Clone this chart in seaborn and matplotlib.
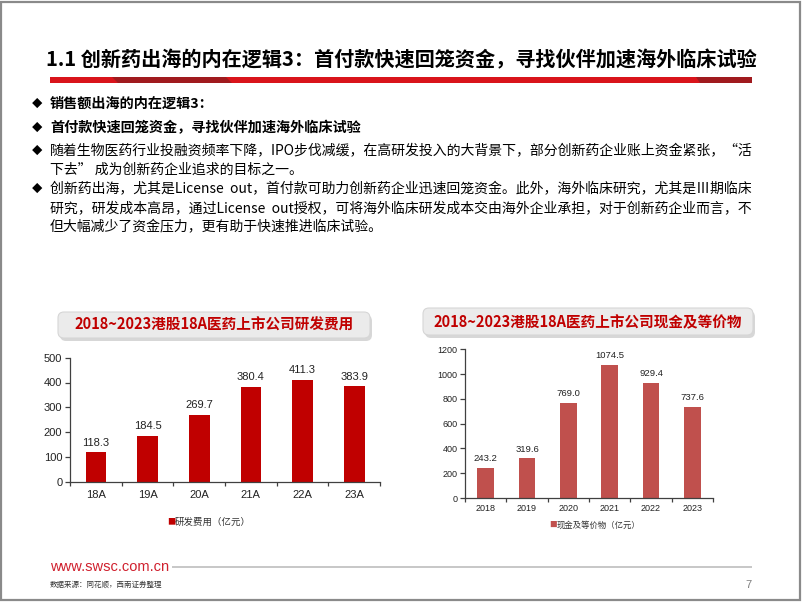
import matplotlib
matplotlib.use('Agg')
import matplotlib.pyplot as plt
import seaborn as sns
from matplotlib.patches import Rectangle, FancyBboxPatch, Polygon
from matplotlib.ticker import FixedLocator, NullLocator

# ---------------- data ----------------
rd_categories = ['18A', '19A', '20A', '21A', '22A', '23A']
rd_values = [118.3, 184.5, 269.7, 380.4, 411.3, 383.9]
rd_ticks = [0, 100, 200, 300, 400, 500]

cash_years = ['2018', '2019', '2020', '2021', '2022', '2023']
cash_values = [243.2, 319.6, 769.0, 1074.5, 929.4, 737.6]
cash_ticks = [0, 200, 400, 600, 800, 1000, 1200]

title = '1.1 创新药出海的内在逻辑3：首付款快速回笼资金，寻找伙伴加速海外临床试验'
bullets = [
    ('销售额出海的内在逻辑3：', True, True),
    ('首付款快速回笼资金，寻找伙伴加速海外临床试验', True, True),
    ('随着生物医药行业投融资频率下降，IPO步伐减缓，在高研发投入的大背景下，部分创新药企业账上资金紧张，“活', False, True),
    ('下去” 成为创新药企业追求的目标之一。', False, False),
    ('创新药出海，尤其是License  out，首付款可助力创新药企业迅速回笼资金。此外，海外临床研究，尤其是Ⅲ期临床', False, True),
    ('研究，研发成本高昂，通过License  out授权，可将海外临床研发成本交由海外企业承担，对于创新药企业而言，不', False, False),
    ('但大幅减少了资金压力，更有助于快速推进临床试验。', False, False),
]
chart1_title = '2018~2023港股18A医药上市公司研发费用'
chart2_title = '2018~2023港股18A医药上市公司现金及等价物'
legend1 = '研发费用（亿元）'
legend2 = '现金及等价物（亿元）'
site = 'www.swsc.com.cn'
source = '数据来源：同花顺，西南证券整理'
page = '7'

# ---------------- setup ----------------
sns.set_theme(style='ticks')
plt.rcParams['font.family'] = ['Noto Sans CJK SC', 'DejaVu Sans']
NUMF = ['Liberation Sans', 'Noto Sans CJK SC']

W, H = 802, 602
fig = plt.figure(figsize=(W / 100, H / 100), dpi=100)
fig.patch.set_facecolor('white')
T = fig.dpi_scale_trans


def P(x, y):
    return (x / 100, (H - y) / 100)


def ftext(x, y, s, **kw):
    kw.setdefault('va', 'center')
    return fig.text(x / W, 1 - y / H, s, **kw)


# slide frame
fig.add_artist(Rectangle(P(1, 600), 799 / 100, 598 / 100, transform=T,
                         fill=False, edgecolor='#8a8a8a', lw=1.6))

# title
ftext(46, 60, title, fontsize=14.5, fontweight='bold', color='black', ha='left')
# red bar under title
fig.add_artist(Rectangle(P(50, 83), 702 / 100, 6 / 100, transform=T,
                         color='#D9141B', lw=0))
fig.add_artist(Polygon([P(112, 77), P(226, 77), P(232, 83), P(118, 83)],
                       closed=True, transform=T, color='#A01A1E', lw=0))
fig.add_artist(Polygon([P(696, 77), P(752, 77), P(752, 83), P(700, 83)],
                       closed=True, transform=T, color='#A01A1E', lw=0))

# bullets
ys = [104, 128, 151, 170, 189, 208, 227]
for (txt, bold, mark), y in zip(bullets, ys):
    if mark:
        ftext(37, y, '◆', fontsize=7.5, color='black', ha='center')
    ftext(50, y, txt, fontsize=10 if not bold else 10.2,
          fontweight='bold' if bold else 'normal', color='black', ha='left')


# title boxes
def title_box(x0, y0, x1, y1, text, cx, cy):
    w = (x1 - x0) / 100
    h = (y1 - y0) / 100
    sh = FancyBboxPatch(P(x0 + 2, y1 + 3), w, h, transform=T,
                        boxstyle='round,pad=0,rounding_size=0.06',
                        facecolor='#bdbdbd', edgecolor='none', alpha=0.6)
    fig.add_artist(sh)
    bx = FancyBboxPatch(P(x0, y1), w, h, transform=T,
                        boxstyle='round,pad=0,rounding_size=0.06',
                        facecolor='#EBEBEB', edgecolor='#D6D6D6', lw=0.8)
    fig.add_artist(bx)
    ftext(cx, cy, text, fontsize=10.5, fontweight='bold', color='#C00000',
          ha='center')


title_box(58, 312, 370, 338, chart1_title, 214, 325)
title_box(423, 308, 753, 335, chart2_title, 588, 322)


def style_axes(ax, ticks, lab_size, color, xpad):
    ax.set_xlim(-0.5, 5.5)
    ax.set_ylim(ticks[0], ticks[-1])
    ax.set_yticks(ticks)
    ax.set_ylabel('')
    ax.set_xlabel('')
    sns.despine(ax=ax)
    for s in ['left', 'bottom']:
        ax.spines[s].set_color(color)
        ax.spines[s].set_linewidth(0.9)
    ax.set_facecolor('none')
    ax.xaxis.set_minor_locator(FixedLocator([i - 0.5 for i in range(7)]))
    ax.tick_params(axis='x', which='major', length=0, pad=xpad,
                   labelsize=lab_size, labelcolor='#222222')
    ax.tick_params(axis='x', which='minor', length=3, width=0.9,
                   color=color, direction='out')
    ax.tick_params(axis='y', length=3.5, width=0.9, color=color,
                   direction='out', labelsize=lab_size, labelcolor='#222222', pad=2)
    ax.yaxis.set_minor_locator(NullLocator())
    for lbl in ax.get_xticklabels() + ax.get_yticklabels():
        lbl.set_fontfamily(NUMF)


# ---------------- chart 1 ----------------
ax1 = fig.add_axes([70 / W, 1 - 481.7 / H, 310 / W, 124 / H])
sns.barplot(x=rd_categories, y=rd_values, color='#C00000', saturation=1,
            width=0.4, ax=ax1, edgecolor='none')
style_axes(ax1, rd_ticks, 8, '#404040', 6)
ax1.bar_label(ax1.containers[0], fmt='%.1f', padding=3.5, fontsize=8,
              family=NUMF, color='#222222')

ftext(171, 522, '■', fontsize=6, color='#C00000', ha='center')
ftext(175, 522, legend1, fontsize=6.8, color='#333333', ha='left')

# ---------------- chart 2 ----------------
ax2 = fig.add_axes([465 / W, 1 - 498 / H, 248 / W, 148.7 / H])
sns.barplot(x=cash_years, y=cash_values, color='#C0504D', saturation=1,
            width=0.4, ax=ax2, edgecolor='none')
style_axes(ax2, cash_ticks, 6.5, '#404040', 4.5)
ax2.bar_label(ax2.containers[0], fmt='%.1f', padding=3.3, fontsize=6.8,
              family=NUMF, color='#222222')

ftext(553, 525, '■', fontsize=5.5, color='#C0504D', ha='center')
ftext(557, 525, legend2, fontsize=6, color='#333333', ha='left')

# ---------------- footer ----------------
ftext(50, 567, site, fontsize=10.5, color='#D0202E', ha='left', family=NUMF)
fig.add_artist(Rectangle(P(172, 568), 580 / 100, 2 / 100, transform=T,
                         color='#C8C8C8', lw=0))
ftext(50, 585, source, fontsize=5.4, color='#333333', ha='left')
ftext(752, 585, page, fontsize=8, color='#7f7f7f', ha='right', family=NUMF)

fig.savefig('out.png', dpi=100, facecolor='white')
